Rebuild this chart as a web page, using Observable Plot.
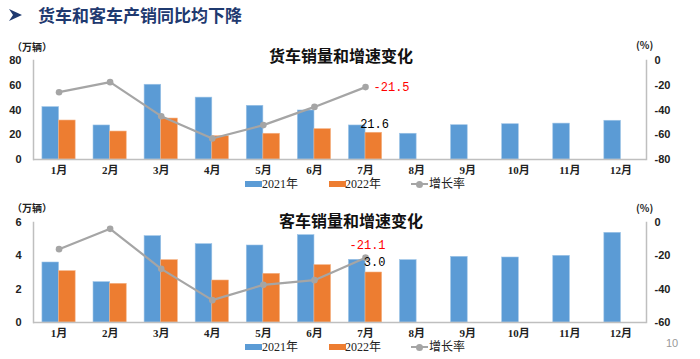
<!DOCTYPE html>
<html><head><meta charset="utf-8">
<script src="https://cdn.jsdelivr.net/npm/d3@7"></script>
<script src="https://cdn.jsdelivr.net/npm/@observablehq/plot@0.6"></script>
<style>
body{margin:0;background:#fff;}
#wrap{position:relative;width:700px;height:359px;overflow:hidden;background:#fff;font-family:"Noto Sans CJK SC","Liberation Sans",sans-serif;}
.abs{position:absolute;white-space:nowrap;}
svg.chart{position:absolute;left:0;}
</style></head><body><div id="wrap"></div>
<script>
// ---- data ----
const months = ["1月","2月","3月","4月","5月","6月","7月","8月","9月","10月","11月","12月"];
const seriesNames = ["2021年","2022年","增长率"];
const truck2021 = [42.3, 27.5, 60.4, 50.0, 43.4, 39.6, 27.5, 20.8, 27.7, 28.5, 29.0, 31.3];
const truck2022 = [31.5, 22.6, 33.1, 18.8, 20.8, 24.5, 21.6];
const truckGrowth = [-25.6, -17.5, -45.0, -63.0, -52.2, -37.5, -21.5];
const bus2021 = [3.6, 2.42, 5.18, 4.7, 4.62, 5.24, 3.76, 3.74, 3.94, 3.9, 4.0, 5.38];
const bus2022 = [3.08, 2.32, 3.74, 2.52, 2.92, 3.44, 3.0];
const busGrowth = [-16.0, -3.8, -27.8, -46.6, -37.4, -34.6, -21.1];
const truckLeftTicks = [0, 20, 40, 60, 80];
const busLeftTicks = [0, 2, 4, 6];
const truckRightTicks = [0, -20, -40, -60, -80];
const busRightTicks = [0, -20, -40, -60];

const BLUE = "#5B9BD5", ORANGE = "#ED7D31", GRAY = "#A5A5A5", AXIS = "#BFBFBF";
const wrap = document.getElementById("wrap");

function addText(txt, css) {
  const d = document.createElement("div");
  d.className = "abs";
  d.textContent = txt;
  Object.assign(d.style, css);
  wrap.appendChild(d);
  return d;
}

function chart(o) {
  const rows = months.map((m, i) => ({month: m, a: o.a[i], b: o.b[i], g: o.g[i]}));
  const yMax = o.leftTicks[o.leftTicks.length - 1];
  const gMin = Math.min(...o.rightTicks);
  const toY = g => (g - gMin) * yMax / (-gMin);
  const bRows = rows.filter(d => d.b != null);
  const gRows = rows.filter(d => d.g != null);
  const lastB = bRows.slice(-1);
  const lastG = gRows.slice(-1);
  const half = 16.6;
  const svg = Plot.plot({
    width: 700,
    height: o.height,
    marginTop: o.mt,
    marginBottom: o.mb,
    marginLeft: 33,
    marginRight: 54,
    style: {background: "transparent", fontFamily: "'Liberation Sans','Noto Sans CJK SC',sans-serif", overflow: "visible"},
    x: {domain: months, paddingInner: 0.35, paddingOuter: 0.175, round: false, label: null},
    y: {domain: [0, yMax], label: null},
    marks: [
      Plot.barY(rows, {x: "month", y: "a", fill: BLUE, stroke: "#9CC3E6", strokeWidth: 0.6, insetRight: half}),
      Plot.barY(bRows, {x: "month", y: "b", fill: ORANGE, stroke: "#F4B183", strokeWidth: 0.6, insetLeft: half}),
      Plot.frame({anchor: "left", stroke: AXIS, strokeWidth: 1.5}),
      Plot.frame({anchor: "right", stroke: AXIS, strokeWidth: 1.5}),
      Plot.ruleY([0], {stroke: AXIS, strokeWidth: 1.5}),
      Plot.line(gRows, {x: "month", y: d => toY(d.g), stroke: GRAY, strokeWidth: 2.2}),
      Plot.dot(gRows, {x: "month", y: d => toY(d.g), fill: GRAY, r: 3.3}),
      Plot.text(lastG, {x: "month", y: d => toY(d.g), text: d => d.g.toFixed(1), fill: "#FF0000",
        fontFamily: "'Liberation Mono',monospace", fontSize: 12, dx: o.gdx, dy: o.gdy, textAnchor: o.ganchor}),
      Plot.text(lastB, {x: "month", y: "b", text: d => d.b.toFixed(1), fill: "#000",
        fontFamily: "'Liberation Mono',monospace", fontSize: 12, dx: 9, dy: o.bdy}),
      Plot.axisY({anchor: "left", ticks: o.leftTicks, tickFormat: d => String(d), label: null, tickSize: 0, tickPadding: 12, fontWeight: "bold", fontSize: 11, fill: "#222"}),
      Plot.axisY({anchor: "right", ticks: o.rightTicks.map(toY), tickFormat: y => String(Math.round(y * (-gMin) / yMax + gMin)), label: null,
        tickSize: 0, tickPadding: 8, fontWeight: "bold", fontSize: 11, fill: "#222"}),
      Plot.axisX({tickSize: 0, tickPadding: 7, label: null, fontWeight: "bold", fontSize: 11, fill: "#222",
        fontFamily: "'Liberation Serif','Noto Sans CJK SC',serif"})
    ]
  });
  svg.classList.add("chart");
  svg.style.top = o.top + "px";
  wrap.appendChild(svg);

  // chart title and unit labels
  addText(o.title, {left: o.titleX + "px", top: (o.top + o.titleY - 11) + "px", fontSize: "16px", fontWeight: "bold", color: "#111", lineHeight: "22px"});
  addText("（万辆）", {left: "12px", top: (o.top + o.unitY - 7) + "px", fontSize: "10px", fontWeight: "bold", color: "#222", lineHeight: "14px"});
  addText("(%)", {left: "636px", top: (o.top + o.unitY2 - 7) + "px", fontSize: "10px", fontWeight: "bold", color: "#222", lineHeight: "14px"});

  // legend
  const ly = o.top + o.legendY;
  const sw = (x, c) => { const d = document.createElement("div"); d.className = "abs";
    Object.assign(d.style, {left: x + "px", top: (ly - 3) + "px", width: "17px", height: "6px", background: c}); wrap.appendChild(d); };
  const lt = (x, t) => addText(t, {left: x + "px", top: (ly - 8) + "px", fontSize: "12px", lineHeight: "16px", color: "#222",
    fontFamily: "'Liberation Serif','Noto Sans CJK SC',serif"});
  sw(245, BLUE); lt(262, seriesNames[0]);
  sw(329, ORANGE); lt(345, seriesNames[1]);
  const gl = document.createElement("div"); gl.className = "abs";
  Object.assign(gl.style, {left: "411px", top: (ly - 1) + "px", width: "17px", height: "2px", background: GRAY}); wrap.appendChild(gl);
  const gd = document.createElement("div"); gd.className = "abs";
  Object.assign(gd.style, {left: "416px", top: (ly - 3.5) + "px", width: "7px", height: "7px", borderRadius: "50%", background: GRAY}); wrap.appendChild(gd);
  lt(429, seriesNames[2]);
}

// page title
const icon = document.createElementNS("http://www.w3.org/2000/svg", "svg");
icon.setAttribute("width", "14"); icon.setAttribute("height", "12");
icon.innerHTML = '<polygon points="0,0 13,6 0,12 4,6" fill="#1F3A70"/>';
Object.assign(icon.style, {position: "absolute", left: "9px", top: "9px"});
wrap.appendChild(icon);
addText("货车和客车产销同比均下降", {left: "38px", top: "4px", fontSize: "17px", fontWeight: "bold", color: "#1F3A70", lineHeight: "22px"});

chart({title: "货车销量和增速变化", a: truck2021, b: truck2022, g: truckGrowth,
  leftTicks: truckLeftTicks, rightTicks: truckRightTicks,
  top: 40, height: 150, mt: 20, mb: 31, titleX: 269, titleY: 15, unitY: 7, unitY2: 5, legendY: 144,
  gdx: 8, gdy: 0, ganchor: "start", bdy: -9});
chart({title: "客车销量和增速变化", a: bus2021, b: bus2022, g: busGrowth,
  leftTicks: busLeftTicks, rightTicks: busRightTicks,
  top: 190, height: 169, mt: 32, mb: 37, titleX: 279, titleY: 30, unitY: 18, unitY2: 18, legendY: 157,
  gdx: 2, gdy: -13, ganchor: "middle", bdy: -10});

addText("10", {left: "666px", top: "335px", fontSize: "11px", color: "#999", lineHeight: "16px", fontFamily: "'Liberation Sans',sans-serif"});
</script></body></html>
